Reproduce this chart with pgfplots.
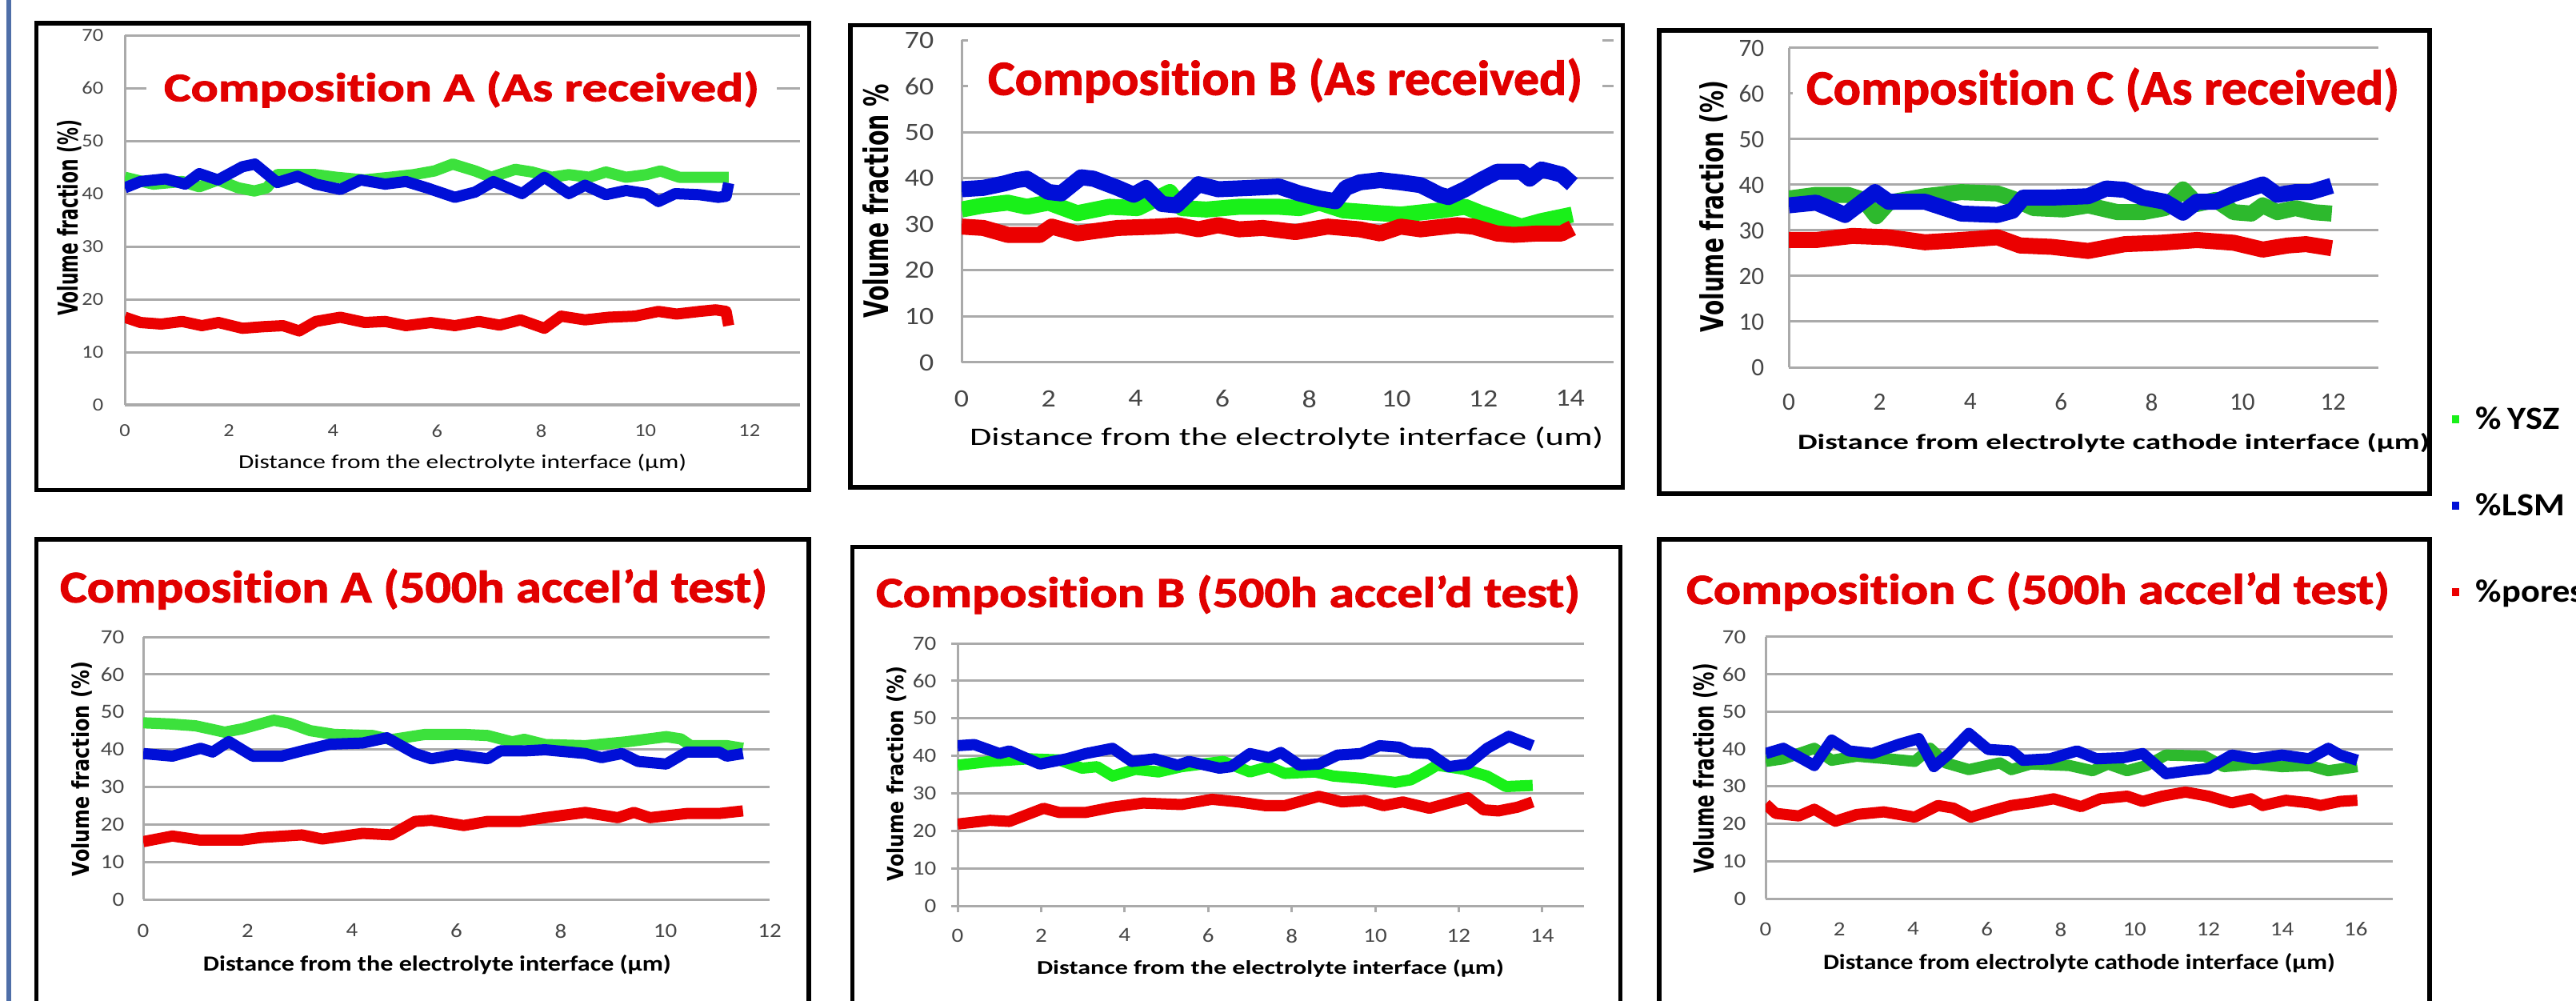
\documentclass[border=0pt]{standalone}
\usepackage{fontspec}
\setmainfont{Carlito}[Ligatures=CommonOff]
\newfontfamily\titlefont{Carlito}[Ligatures=CommonOff, BoldFeatures={FakeBold=1.6}]
\newfontfamily\tickfont{Carlito}[FakeStretch=1.15]
\newfontfamily\tickfontB{Carlito}
\newfontfamily\ylabfont{DejaVu Sans}
\usepackage{graphicx}
\usepackage{pgfplots}
\pgfplotsset{compat=1.18}
\definecolor{gridgray}{RGB}{170,170,170}
\definecolor{tickgray}{RGB}{70,70,70}
\definecolor{gA}{RGB}{60,225,60}
\definecolor{gB}{RGB}{25,240,25}
\definecolor{gC}{RGB}{45,185,45}
\definecolor{lsm}{RGB}{0,15,215}
\definecolor{por}{RGB}{235,0,0}
\definecolor{titred}{RGB}{225,0,0}
\definecolor{barblue}{RGB}{79,111,168}
\pgfplotsset{
  panel/.style={
    scale only axis, axis lines=left,
    axis line style={-, draw=gridgray, line width=0.75pt},
    ymin=0, ymax=70, ytick={0,10,...,70}, xmin=0,
    ymajorgrids, grid style={draw=gridgray, line width=0.75pt},
    major tick length=0pt,
    /pgf/number format/assume math mode=true,
    ticklabel style={text=tickgray, inner sep=0pt},
    xticklabel style={anchor=north},
    yticklabel style={anchor=east},
    every axis plot/.append style={line cap=butt, line join=round, mark=none},
  },
}
\newcommand{\ylab}[5]{\node[rotate=90, inner sep=0pt] at (#1,#2) {\resizebox{#3}{#4}{\ylabfont\bfseries #5}};}
\newcommand{\xlab}[5]{\node[anchor=base, inner sep=0pt] at (#1,#2) {\resizebox{#3}{#4}{#5}};}
\newcommand{\ttl}[1]{\titlefont\bfseries\color{titred}#1}
\begin{document}
\begin{tikzpicture}
\useasboundingbox (0,0) rectangle (805pt,-312.75pt);
\fill[white] (0,0) rectangle (805pt,-312.75pt);
\draw[barblue, line width=1.6pt] (2.8pt,5pt) -- (2.8pt,-320pt);

% ---------- Panel 1 ----------
\begin{axis}[panel, at={(39pt,-126.5pt)}, anchor=south west, width=211pt, height=115.5pt,
  xmax=12.97, xtick={0,2,...,12},
  ticklabel style={font=\tickfont\fontsize{5.75pt}{6pt}\selectfont},
  xticklabel style={yshift=-6pt}, yticklabel style={xshift=-6.5pt},
  every axis plot/.append style={line width=3.5pt}]
\addplot[gA] coordinates {(0,43.1)(0.55,41.8)(1.1,42.3)(1.43,41.3)(1.79,42.6)(2.18,41.1)(2.49,40.5)(2.73,41.1)(2.93,43.6)(3.67,43.6)(4.06,43.1)(4.6,42.6)(5.1,43.1)(5.55,43.6)(5.95,44.3)(6.3,45.6)(6.73,44.3)(7.04,43.1)(7.5,44.6)(7.82,44.1)(8.2,43.1)(8.53,43.6)(8.92,43.1)(9.24,44.1)(9.63,43.1)(10.02,43.6)(10.29,44.3)(10.65,43.1)(11.12,43.1)(11.6,43.1)};
\addplot[lsm] coordinates {(0,41.1)(0.3,42.3)(0.78,42.8)(1.16,41.8)(1.43,43.8)(1.79,42.6)(2.26,45.1)(2.5,45.6)(2.93,42.1)(3.32,43.3)(3.67,41.8)(4.14,40.8)(4.53,42.6)(5.0,41.8)(5.4,42.3)(5.8,41.1)(6.34,39.3)(6.73,40.3)(7.08,42.3)(7.63,40.0)(8.06,43.1)(8.53,40.0)(8.84,41.6)(9.24,39.8)(9.63,40.6)(10.02,40.0)(10.25,38.5)(10.57,40.0)(11.04,39.8)(11.4,39.3)(11.55,39.5)(11.6,42.0)};
\addplot[por] coordinates {(0,16.6)(0.3,15.6)(0.7,15.3)(1.1,15.8)(1.48,15.0)(1.8,15.6)(2.26,14.5)(2.65,14.8)(3.04,15.0)(3.35,14.0)(3.67,15.8)(4.14,16.6)(4.61,15.6)(5.0,15.8)(5.4,15.0)(5.88,15.6)(6.34,15.0)(6.8,15.8)(7.2,15.1)(7.6,16.1)(8.06,14.5)(8.38,16.8)(8.84,16.1)(9.3,16.6)(9.8,16.8)(10.25,17.7)(10.6,17.2)(11.04,17.7)(11.35,18.0)(11.55,17.7)(11.6,15.0)};
\end{axis}
\node[anchor=base, fill=white, inner xsep=5.6pt, inner ysep=1.5pt] at (144.25pt,-31.625pt) {\resizebox{186pt}{9.4pt}{\ttl{Composition A (As received)}}};
\xlab{144.5pt}{-146.25pt}{140pt}{4.5pt}{Distance from the electrolyte interface (µm)}
\ylab{21.6pt}{-68.1pt}{61.25pt}{6.5pt}{Volume fraction (\%)}
\draw[line width=1.4pt] (11.375pt,-7.25pt) rectangle (252.875pt,-153.125pt);

% ---------- Panel 2 ----------
\begin{axis}[panel, at={(300.5pt,-113.25pt)}, anchor=south west, width=203.75pt, height=100.75pt,
  xmax=15, xtick={0,2,...,14},
  ticklabel style={font=\tickfont\fontsize{7.8pt}{8pt}\selectfont},
  xticklabel style={yshift=-8.5pt}, yticklabel style={xshift=-8.5pt},
  every axis plot/.append style={line width=5pt}]
\addplot[gB] coordinates {(0,33.2)(0.5,34.1)(1.06,34.7)(1.5,33.8)(2.0,34.7)(2.66,32.4)(3.4,33.8)(4.05,33.5)(4.79,37.0)(5.07,33.5)(5.63,33.2)(6.38,33.8)(7.3,33.8)(7.77,33.5)(8.23,34.7)(8.79,33.0)(9.63,32.4)(10.1,32.1)(11.0,33.0)(11.58,33.8)(11.95,32.4)(12.4,31.0)(12.88,29.5)(13.34,30.7)(14.05,32.1)};
\addplot[lsm] coordinates {(0,37.6)(0.5,37.9)(1.0,38.9)(1.27,39.6)(1.5,39.9)(2.0,37.0)(2.29,36.7)(2.75,40.2)(3.03,39.9)(3.59,37.9)(3.96,36.4)(4.24,37.9)(4.61,34.4)(4.94,34.1)(5.45,38.7)(5.9,37.6)(6.65,37.9)(7.3,38.2)(7.77,36.7)(8.23,35.6)(8.6,35.0)(8.84,37.9)(9.16,39.1)(9.63,39.6)(10.1,39.1)(10.56,38.5)(11.0,36.4)(11.2,35.9)(11.58,37.6)(11.95,39.6)(12.32,41.4)(12.88,41.4)(13.07,39.9)(13.34,41.9)(13.8,40.8)(14.05,38.7)};
\addplot[por] coordinates {(0,29.5)(0.5,29.2)(1.06,27.7)(1.8,27.7)(2.07,29.5)(2.66,28.0)(3.59,29.2)(4.5,29.5)(4.98,29.8)(5.45,28.9)(5.9,29.8)(6.38,28.9)(6.93,29.2)(7.68,28.3)(8.42,29.5)(9.16,28.9)(9.63,28.0)(10.1,29.5)(10.56,28.9)(11.4,29.8)(11.77,29.5)(12.32,28.0)(12.7,27.7)(13.25,28.0)(13.8,28.0)(14.05,29.2)};
\end{axis}
\node[anchor=base, fill=white, inner xsep=6.25pt, inner ysep=7pt] at (401.625pt,-29.65pt) {\resizebox{185.75pt}{11.4pt}{\ttl{Composition B (As received)}}};
\xlab{402pt}{-139.2pt}{198pt}{5.75pt}{Distance from the electrolyte interface (um)}
\ylab{273.75pt}{-62.75pt}{73pt}{8pt}{Volume fraction \%}
\draw[line width=1.4pt] (265.75pt,-7.875pt) rectangle (507.125pt,-152.25pt);

% ---------- Panel 3 ----------
\begin{axis}[panel, at={(559pt,-114.75pt)}, anchor=south west, width=184.25pt, height=99.75pt,
  xmax=13, xtick={0,2,...,12},
  ticklabel style={font=\tickfontB\fontsize{7.8pt}{8pt}\selectfont},
  xticklabel style={yshift=-8pt}, yticklabel style={xshift=-7.5pt},
  every axis plot/.append style={line width=5pt},
  legend style={at={(1.12347,-0.12782)}, anchor=north west, draw=none, fill=none,
    inner sep=0pt, column sep=5.25pt, row sep=18.5pt,
    font=\fontsize{10.1pt}{12pt}\selectfont\bfseries,
    nodes={inner sep=0pt, text height=6.5pt, text depth=2pt}},
  legend cell align=left,
  legend image code/.code={\fill[#1] (0pt,-0.25pt) rectangle (2.25pt,2.25pt);}]
\addplot[gC, forget plot] coordinates {(0,37.0)(0.6,37.8)(1.3,37.8)(1.65,36.7)(1.93,33.1)(2.2,36.1)(3.0,37.5)(3.8,38.4)(4.6,38.1)(4.93,37.0)(5.4,34.9)(6.05,34.6)(6.6,35.5)(7.25,34.0)(7.8,34.0)(8.29,34.9)(8.69,39.0)(9.0,35.8)(9.41,36.7)(9.81,34.0)(10.2,33.7)(10.45,35.5)(10.77,34.0)(11.17,34.9)(11.57,34.0)(11.97,33.7)};
\addplot[lsm, forget plot] coordinates {(0,35.5)(0.6,36.1)(1.24,33.4)(1.9,38.4)(2.2,36.3)(3.0,36.3)(3.8,33.7)(4.6,33.4)(4.93,34.3)(5.17,37.2)(5.8,37.2)(6.6,37.5)(7.0,39.2)(7.41,38.9)(7.8,37.2)(8.29,36.3)(8.69,33.9)(9.0,36.3)(9.41,36.3)(9.81,38.0)(10.45,40.1)(10.77,37.8)(11.17,38.4)(11.5,38.4)(11.97,39.8)};
\addplot[por, forget plot] coordinates {(0,27.9)(0.6,27.9)(1.4,28.8)(2.2,28.5)(3.0,27.4)(3.8,27.9)(4.6,28.5)(5.1,26.7)(5.8,26.4)(6.6,25.5)(7.41,27.0)(8.2,27.3)(9.0,27.9)(9.81,27.3)(10.45,25.8)(11.0,26.7)(11.4,27.0)(11.97,26.1)};
\addlegendimage{fill=gB, draw=none}
\addlegendentry{\scalebox{1.1}[1]{\%\,YSZ}}
\addlegendimage{fill=lsm, draw=none}
\addlegendentry{\scalebox{1.1}[1]{\%LSM}}
\addlegendimage{fill=por, draw=none}
\addlegendentry{\scalebox{1.1}[1]{\%pores}}
\end{axis}
\node[anchor=base, fill=white, inner xsep=4.25pt, inner ysep=3pt] at (657.125pt,-32.625pt) {\resizebox{185.25pt}{11.4pt}{\ttl{Composition C (As received)}}};
\xlab{660.5pt}{-140.4pt}{197.5pt}{5pt}{\bfseries Distance from electrolyte cathode interface (µm)}
\ylab{535.5pt}{-64.5pt}{78.5pt}{7.5pt}{Volume fraction (\%)}
\draw[line width=1.4pt] (518.5pt,-9.5pt) rectangle (759.25pt,-154.25pt);

% ---------- Panel 4 ----------
\begin{axis}[panel, at={(44.75pt,-281pt)}, anchor=south west, width=195.75pt, height=82pt,
  xmax=12, xtick={0,2,...,12},
  ticklabel style={font=\tickfont\fontsize{6.3pt}{7pt}\selectfont},
  xticklabel style={yshift=-7.5pt}, yticklabel style={xshift=-5.75pt},
  every axis plot/.append style={line width=3.5pt}]
\addplot[gA] coordinates {(0,47.1)(0.5,46.8)(1.0,46.3)(1.3,45.4)(1.56,44.6)(1.9,45.5)(2.5,47.8)(2.8,47.0)(3.2,45.0)(3.66,44.0)(4.4,43.7)(4.75,42.6)(5.4,44.0)(6.14,44.0)(6.6,43.7)(7.07,42.0)(7.3,42.7)(7.7,41.3)(8.47,41.0)(9.24,42.0)(10.02,43.4)(10.3,42.8)(10.49,41.0)(11.18,41.0)(11.49,40.3)};
\addplot[lsm] coordinates {(0,38.9)(0.56,38.2)(1.1,40.3)(1.33,39.3)(1.64,42.1)(2.1,38.2)(2.65,38.2)(3.04,39.6)(3.58,41.4)(4.2,41.7)(4.67,43.1)(5.21,38.9)(5.52,37.5)(5.99,38.6)(6.6,37.5)(6.84,39.6)(7.3,39.6)(7.7,39.9)(8.47,38.9)(8.78,37.8)(9.17,38.9)(9.48,36.8)(10.02,36.1)(10.41,39.3)(11.03,39.3)(11.18,38.2)(11.49,38.9)};
\addplot[por] coordinates {(0,15.4)(0.56,16.9)(1.1,15.8)(1.88,15.8)(2.26,16.5)(3.04,17.2)(3.43,16.1)(4.2,17.6)(4.75,17.2)(5.21,20.8)(5.52,21.1)(6.14,19.7)(6.6,20.8)(7.23,20.8)(7.7,21.8)(8.47,23.2)(9.09,21.8)(9.4,23.2)(9.71,21.8)(10.41,22.9)(11.03,22.9)(11.49,23.6)};
\end{axis}
\node[anchor=base, inner sep=0pt] at (129.25pt,-188.2pt) {\resizebox{221pt}{10.5pt}{\ttl{Composition A (500h accel’d test)}}};
\xlab{136.6pt}{-303.4pt}{146.25pt}{5pt}{\bfseries Distance from the electrolyte interface (µm)}
\ylab{25.5pt}{-240.25pt}{67pt}{5.5pt}{Volume fraction (\%)}
\draw[line width=1.4pt] (11.375pt,-320pt) -- (11.375pt,-168.5pt) -- (252.75pt,-168.5pt) -- (252.75pt,-320pt);

% ---------- Panel 5 ----------
\begin{axis}[panel, at={(299.25pt,-283pt)}, anchor=south west, width=195.75pt, height=82pt,
  xmax=15, xtick={0,2,...,14},
  major tick length=2pt, tick align=outside, tick style={draw=gridgray, line width=0.75pt},
  ticklabel style={font=\tickfont\fontsize{6.3pt}{7pt}\selectfont},
  xticklabel style={yshift=-5pt}, yticklabel style={xshift=-4.5pt},
  every axis plot/.append style={line width=3.5pt}]
\addplot[gB] coordinates {(0,37.5)(0.78,38.5)(1.7,39.2)(2.43,38.9)(2.98,36.7)(3.34,37.1)(3.71,34.6)(4.26,36.4)(4.81,35.7)(5.36,37.1)(6.36,38.5)(7.0,35.7)(7.46,37.1)(7.83,35.3)(8.56,35.7)(9.0,34.6)(9.75,33.9)(10.48,32.9)(10.85,33.6)(11.21,35.7)(11.48,37.5)(12.13,36.4)(12.68,34.6)(13.13,31.8)(13.77,32.1)};
\addplot[lsm] coordinates {(0,42.7)(0.4,43.0)(1.0,40.6)(1.24,41.3)(1.97,37.8)(2.61,39.2)(3.07,40.6)(3.71,42.0)(4.17,38.5)(4.72,39.2)(5.27,37.5)(5.54,38.5)(6.27,36.7)(6.55,37.1)(7.0,40.6)(7.46,39.5)(7.74,40.9)(8.19,37.5)(8.65,37.8)(9.1,40.2)(9.66,40.6)(10.1,42.7)(10.57,42.3)(10.85,40.9)(11.3,40.6)(11.76,37.1)(12.22,37.8)(12.68,42.0)(13.2,45.2)(13.77,42.7)};
\addplot[por] coordinates {(0,21.8)(0.78,22.8)(1.24,22.5)(2.06,26.0)(2.43,24.9)(3.07,24.9)(3.71,26.3)(4.44,27.4)(5.36,27.0)(6.09,28.4)(6.73,27.7)(7.37,26.7)(7.83,26.7)(8.65,29.2)(9.2,27.7)(9.75,28.1)(10.2,26.7)(10.66,27.7)(11.3,26.0)(11.76,27.4)(12.22,28.8)(12.59,25.6)(12.95,25.3)(13.41,26.3)(13.77,27.7)};
\end{axis}
\node[anchor=base, inner sep=0pt] at (383.75pt,-189.7pt) {\resizebox{220pt}{10pt}{\ttl{Composition B (500h accel’d test)}}};
\xlab{397pt}{-304.4pt}{146pt}{4.5pt}{\bfseries Distance from the electrolyte interface (µm)}
\ylab{280.25pt}{-241.75pt}{67pt}{5.25pt}{Volume fraction (\%)}
\draw[line width=1.4pt] (266.375pt,-320pt) -- (266.375pt,-170.875pt) -- (506.375pt,-170.875pt) -- (506.375pt,-320pt);

% ---------- Panel 6 ----------
\begin{axis}[panel, at={(551.75pt,-280.75pt)}, anchor=south west, width=196pt, height=81.75pt,
  xmax=17, xtick={0,2,...,16},
  ticklabel style={font=\tickfont\fontsize{6.3pt}{7pt}\selectfont},
  xticklabel style={yshift=-7.25pt}, yticklabel style={xshift=-6pt},
  every axis plot/.append style={line width=3.5pt}]
\addplot[gC] coordinates {(0,36.7)(0.48,37.4)(1.32,40.2)(1.79,37.0)(2.47,38.1)(3.31,37.4)(4.04,36.7)(4.46,40.2)(4.88,36.3)(5.51,34.5)(6.35,36.3)(6.66,34.5)(7.18,36.0)(8.23,35.6)(8.86,34.2)(9.28,36.0)(9.8,34.2)(10.33,35.6)(10.85,38.4)(11.9,38.1)(12.42,35.3)(13.26,36.0)(13.99,35.3)(14.73,35.6)(15.25,34.2)(16.04,35.3)};
\addplot[lsm] coordinates {(0,38.8)(0.48,40.2)(1.32,35.6)(1.79,42.4)(2.26,39.5)(2.89,38.8)(3.62,41.3)(4.15,42.8)(4.56,35.3)(4.98,38.8)(5.51,44.2)(6.03,39.9)(6.66,39.5)(6.97,37.0)(7.71,37.4)(8.44,39.5)(8.97,37.4)(9.7,37.7)(10.22,38.8)(10.85,33.4)(11.38,34.1)(12.0,34.8)(12.63,38.4)(13.26,37.4)(13.99,38.4)(14.73,37.4)(15.25,40.2)(15.57,38.4)(16.04,37.0)};
\addplot[por] coordinates {(0,25.3)(0.27,22.8)(0.9,22.1)(1.32,23.9)(1.89,20.7)(2.47,22.5)(3.2,23.2)(4.04,21.8)(4.67,24.9)(5.09,24.2)(5.56,21.8)(6.14,23.5)(6.66,24.9)(7.18,25.6)(7.81,26.7)(8.55,24.6)(9.07,26.7)(9.8,27.4)(10.22,26.0)(10.75,27.4)(11.38,28.5)(12.0,27.4)(12.63,25.6)(13.16,26.7)(13.47,24.9)(14.1,26.3)(14.73,25.6)(15.04,24.9)(15.57,26.0)(16.04,26.3)};
\end{axis}
\node[anchor=base, inner sep=0pt] at (636.875pt,-188.7pt) {\resizebox{219.75pt}{10pt}{\ttl{Composition C (500h accel’d test)}}};
\xlab{649.75pt}{-302.9pt}{160pt}{5pt}{\bfseries Distance from electrolyte cathode interface (µm)}
\ylab{533pt}{-240pt}{65.5pt}{6.5pt}{Volume fraction (\%)}
\draw[line width=1.4pt] (518.5pt,-320pt) -- (518.5pt,-168.5pt) -- (759.25pt,-168.5pt) -- (759.25pt,-320pt);
\end{tikzpicture}
\end{document}
